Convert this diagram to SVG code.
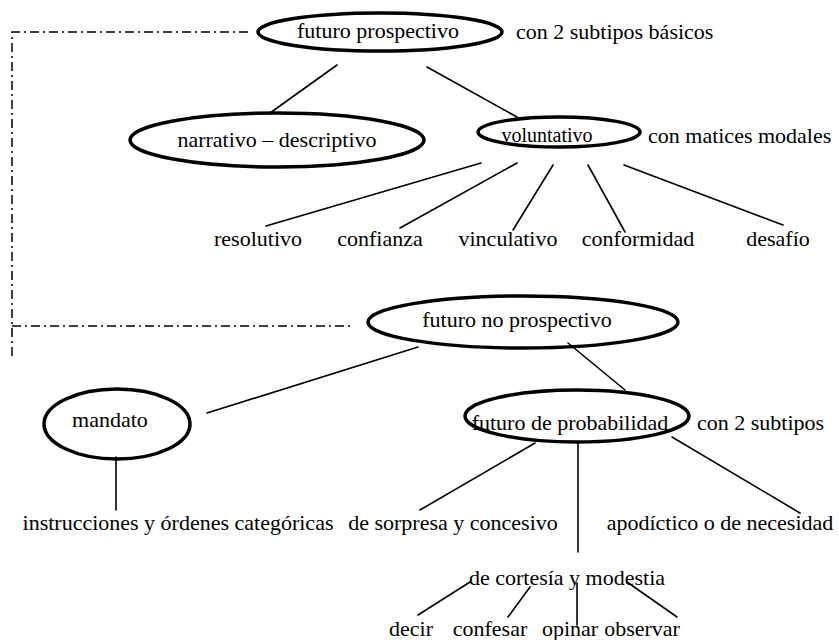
<svg xmlns="http://www.w3.org/2000/svg" width="839" height="640" viewBox="0 0 839 640">
<style>
  .bg { fill: #ffffff; }
  .node { fill: none; stroke: #000; stroke-width: 3.5; }
  .edge { stroke: #000; stroke-width: 1.6; fill: none; stroke-linecap: round; }
  .dash { stroke: #000; stroke-width: 1.5; fill: none; stroke-dasharray: 9 4 2 4; }
  text { font-family: "Liberation Serif", "Times New Roman", serif; font-size: 22px; fill: #000; }
  .c { text-anchor: middle; }
  .s { text-anchor: start; }
</style>
<rect class="bg" x="0" y="0" width="839" height="640"/>

<g id="connectors">
  <path class="dash" d="M248,32 H12 V357"/>
  <path class="dash" d="M12,326 H353"/>
  <line class="edge" x1="337" y1="65" x2="270" y2="113"/>
  <line class="edge" x1="427" y1="67" x2="517" y2="117"/>
  <line class="edge" x1="481" y1="163" x2="266" y2="226"/>
  <line class="edge" x1="517" y1="163" x2="400" y2="228"/>
  <line class="edge" x1="553" y1="165" x2="513" y2="230"/>
  <line class="edge" x1="588" y1="165" x2="625" y2="232"/>
  <line class="edge" x1="624" y1="165" x2="783" y2="225"/>
  <line class="edge" x1="418" y1="347" x2="207" y2="413"/>
  <line class="edge" x1="568" y1="343" x2="625" y2="390"/>
  <line class="edge" x1="116" y1="457" x2="116" y2="510"/>
  <line class="edge" x1="535" y1="443" x2="420" y2="510"/>
  <line class="edge" x1="578" y1="443" x2="578" y2="552"/>
  <line class="edge" x1="672" y1="437" x2="800" y2="513"/>
  <line class="edge" x1="470" y1="582" x2="418" y2="615"/>
  <line class="edge" x1="530" y1="587" x2="508" y2="617"/>
  <line class="edge" x1="577" y1="583" x2="577" y2="625"/>
  <line class="edge" x1="627" y1="582" x2="677" y2="617"/>
</g>

<g id="futuro-prospectivo">
  <ellipse class="node" cx="380" cy="32" rx="122" ry="19"/>
  <text class="c" x="378" y="38">futuro prospectivo</text>
</g>
<g id="nota-prospectivo">
  <text class="s" x="516" y="39">con 2 subtipos básicos</text>
</g>
<g id="narrativo">
  <ellipse class="node" cx="277" cy="140" rx="147" ry="27"/>
  <text class="c" x="277" y="147">narrativo – descriptivo</text>
</g>
<g id="voluntativo">
  <ellipse class="node" cx="559" cy="132" rx="81" ry="15"/>
  <text class="c" x="547" y="142" style="font-size:20px">voluntativo</text>
</g>
<g id="nota-voluntativo">
  <text class="s" x="648" y="143">con matices modales</text>
</g>
<g id="resolutivo"><text class="c" x="258" y="246">resolutivo</text></g>
<g id="confianza"><text class="c" x="380" y="246">confianza</text></g>
<g id="vinculativo"><text class="c" x="508" y="246">vinculativo</text></g>
<g id="conformidad"><text class="c" x="638" y="246">conformidad</text></g>
<g id="desafio"><text class="c" x="778" y="246">desafío</text></g>

<g id="futuro-no-prospectivo">
  <ellipse class="node" cx="523" cy="322" rx="155" ry="26"/>
  <text class="c" x="517" y="327">futuro no prospectivo</text>
</g>
<g id="mandato">
  <ellipse class="node" cx="117" cy="424" rx="73" ry="35"/>
  <text class="c" x="110" y="427">mandato</text>
</g>
<g id="instrucciones"><text class="c" x="178" y="530">instrucciones y órdenes categóricas</text></g>
<g id="futuro-probabilidad">
  <ellipse class="node" cx="577" cy="416" rx="112" ry="26"/>
  <text class="c" x="570" y="430">futuro de probabilidad</text>
</g>
<g id="nota-probabilidad">
  <text class="s" x="697" y="430">con 2 subtipos</text>
</g>
<g id="sorpresa"><text class="c" x="453" y="530">de sorpresa y concesivo</text></g>
<g id="apodictico"><text class="c" x="720" y="530">apodíctico o de necesidad</text></g>
<g id="cortesia"><text class="c" x="567" y="585">de cortesía y modestia</text></g>
<g id="decir"><text class="c" x="411" y="636">decir</text></g>
<g id="confesar"><text class="c" x="490" y="636">confesar</text></g>
<g id="opinar"><text class="c" x="570" y="636">opinar</text></g>
<g id="observar"><text class="c" x="642" y="636">observar</text></g>
</svg>
